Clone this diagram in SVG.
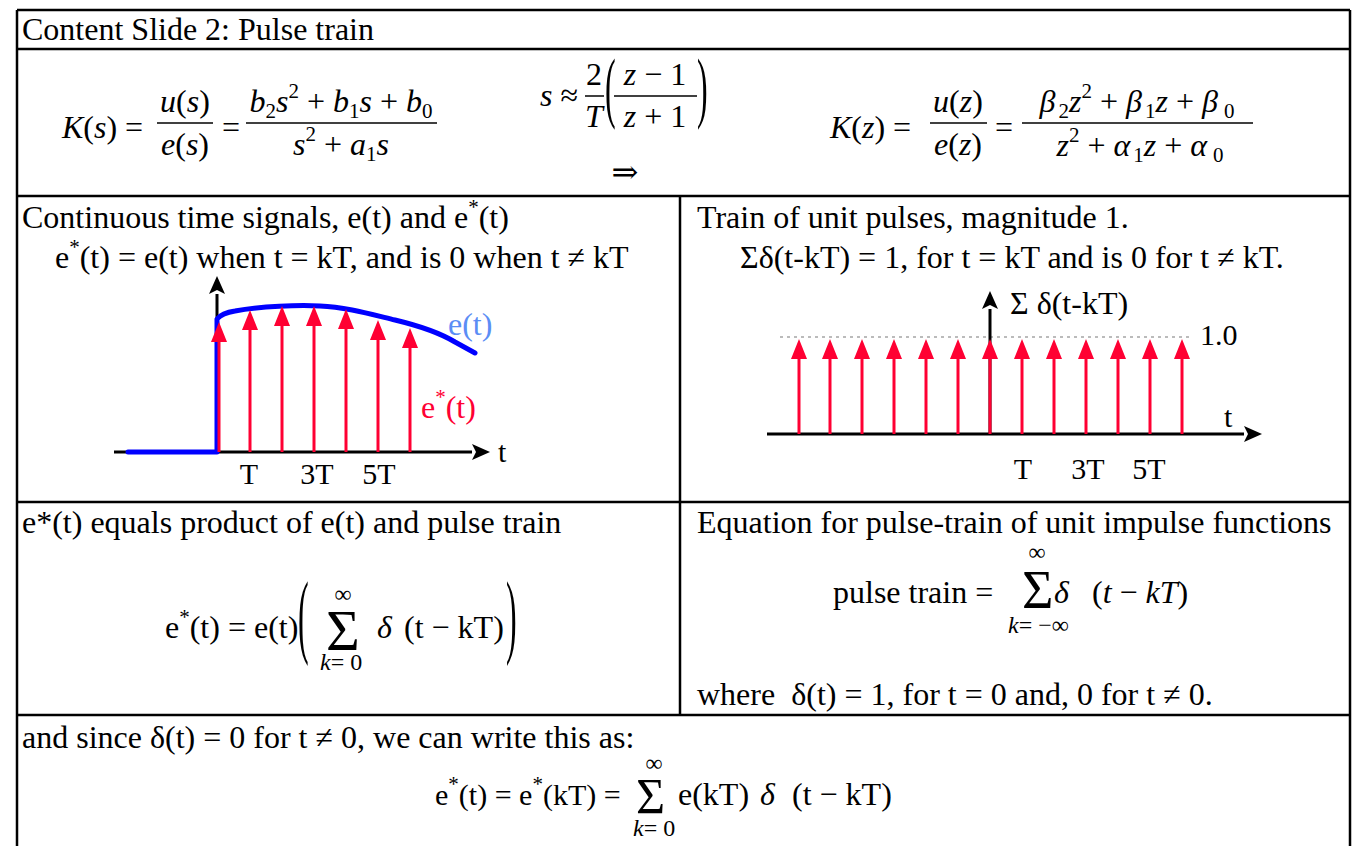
<svg xmlns="http://www.w3.org/2000/svg" width="1354" height="846" viewBox="0 0 1354 846">
<style>
.t{font-family:"Liberation Serif","DejaVu Serif",serif;font-size:32px;fill:#000}
.p{font-family:"Liberation Serif","DejaVu Serif",serif;font-size:30px;fill:#000}
.i{font-style:italic}
.sub{font-size:21px;font-style:normal}
.sup{font-size:21px;font-style:normal}
.sm{font-family:"Liberation Serif","DejaVu Serif",serif;font-size:24px;fill:#000}
.grid{stroke:#000;stroke-width:2.5;fill:none}
.bar{stroke:#000;stroke-width:1.5}
.ax{stroke:#000;stroke-width:3;fill:none}
.pulse{stroke:#ff0033;stroke-width:3;fill:none}
</style>
<defs>
<marker id="ra" markerUnits="userSpaceOnUse" markerWidth="20" markerHeight="16" refX="0" refY="8" orient="auto" viewBox="0 0 20 16">
<path d="M0,0 L20,8 L0,16 Z" fill="#ff0033"/>
</marker>
<marker id="ka" markerUnits="userSpaceOnUse" markerWidth="18" markerHeight="16" refX="0" refY="8" orient="auto" viewBox="0 0 18 16">
<path d="M0,0 L18,8 L0,16 L4,8 Z" fill="#000"/>
</marker>
</defs>
<rect width="1354" height="846" fill="#fff"/>

<g id="table">
<line class="grid" x1="17" y1="10" x2="1350" y2="10"/>
<line class="grid" x1="17" y1="10" x2="17" y2="846"/>
<line class="grid" x1="1350" y1="10" x2="1350" y2="846"/>
<line class="grid" x1="17" y1="49" x2="1350" y2="49"/>
<line class="grid" x1="17" y1="196" x2="1350" y2="196"/>
<line class="grid" x1="17" y1="502" x2="1350" y2="502"/>
<line class="grid" x1="17" y1="715" x2="1350" y2="715"/>
<line class="grid" x1="680" y1="196" x2="680" y2="715"/>
</g>

<g id="title">
<text class="t" x="22" y="40">Content Slide 2: Pulse train</text>
</g>

<g id="eq-ks">
<text class="t" x="62" y="138"><tspan class="i">K</tspan>(<tspan class="i">s</tspan>) =</text>
<line class="bar" x1="157" y1="123" x2="213" y2="123"/>
<text class="t" x="185" y="112" text-anchor="middle"><tspan class="i">u</tspan>(<tspan class="i">s</tspan>)</text>
<text class="t" x="185" y="155" text-anchor="middle"><tspan class="i">e</tspan>(<tspan class="i">s</tspan>)</text>
<text class="t" x="222" y="138">=</text>
<line class="bar" x1="246" y1="123" x2="437" y2="123"/>
<text class="t" x="341" y="112" text-anchor="middle"><tspan class="i">b</tspan><tspan class="sub" dy="6">2</tspan><tspan class="i" dy="-6">s</tspan><tspan class="sup" dy="-14">2</tspan><tspan dy="14"> + </tspan><tspan class="i">b</tspan><tspan class="sub" dy="6">1</tspan><tspan class="i" dy="-6">s</tspan><tspan> + </tspan><tspan class="i">b</tspan><tspan class="sub" dy="6">0</tspan></text>
<text class="t" x="341" y="155" text-anchor="middle"><tspan class="i">s</tspan><tspan class="sup" dy="-14">2</tspan><tspan dy="14"> + </tspan><tspan class="i">a</tspan><tspan class="sub" dy="6">1</tspan><tspan class="i" dy="-6">s</tspan></text>
</g>

<g id="eq-bilinear">
<text class="t" x="540" y="106"><tspan class="i">s</tspan> ≈</text>
<line class="bar" x1="585" y1="96" x2="604" y2="96"/>
<text class="t" x="594" y="85" text-anchor="middle">2</text>
<text class="t i" x="594" y="127" text-anchor="middle">T</text>
<text class="t" transform="translate(605,113) scale(1,2.45)">(</text>
<line class="bar" x1="614" y1="96" x2="697" y2="96"/>
<text class="t" x="655" y="85" text-anchor="middle"><tspan class="i">z</tspan> − 1</text>
<text class="t" x="655" y="127" text-anchor="middle"><tspan class="i">z</tspan> + 1</text>
<text class="t" transform="translate(697,113) scale(1,2.45)">)</text>
<text class="t" x="625" y="183" text-anchor="middle">⇒</text>
</g>

<g id="eq-kz">
<text class="t" x="830" y="138"><tspan class="i">K</tspan>(<tspan class="i">z</tspan>) =</text>
<line class="bar" x1="930" y1="123" x2="987" y2="123"/>
<text class="t" x="958" y="112" text-anchor="middle"><tspan class="i">u</tspan>(<tspan class="i">z</tspan>)</text>
<text class="t" x="958" y="155" text-anchor="middle"><tspan class="i">e</tspan>(<tspan class="i">z</tspan>)</text>
<text class="t" x="995" y="138">=</text>
<line class="bar" x1="1022" y1="123" x2="1253" y2="123"/>
<text class="t" x="1137" y="112" text-anchor="middle"><tspan class="i">β</tspan><tspan class="sub" dx="3" dy="6">2</tspan><tspan class="i" dy="-6">z</tspan><tspan class="sup" dy="-14">2</tspan><tspan dy="14"> + </tspan><tspan class="i">β</tspan><tspan class="sub" dx="3" dy="6">1</tspan><tspan class="i" dy="-6">z</tspan><tspan> + </tspan><tspan class="i">β</tspan><tspan class="sub" dx="6" dy="6">0</tspan></text>
<text class="t" x="1140" y="156" text-anchor="middle"><tspan class="i">z</tspan><tspan class="sup" dy="-14">2</tspan><tspan dy="14"> + </tspan><tspan class="i">α</tspan><tspan class="sub" dx="3" dy="6">1</tspan><tspan class="i" dy="-6">z</tspan><tspan> + </tspan><tspan class="i">α</tspan><tspan class="sub" dx="6" dy="6">0</tspan></text>
</g>

<g id="cell-continuous">
<text class="t" x="22" y="228">Continuous time signals, e(t) and e<tspan class="sup" dy="-14">*</tspan><tspan dy="14">(t)</tspan></text>
<text class="t" x="55" y="268">e<tspan class="sup" dy="-14">*</tspan><tspan dy="14">(t) = e(t) when t = kT, and is 0 when t ≠ kT</tspan></text>
</g>

<g id="plot-left">
<line class="ax" x1="114" y1="452" x2="472" y2="452" marker-end="url(#ka)"/>
<line class="ax" x1="217" y1="452" x2="217" y2="294" marker-end="url(#ka)"/>
<path d="M128,452 H217 V319 Q222,313 235,311 C260,306 300,305 320,306 C345,307 370,314 395,320 C420,326 440,333 455,342 L475,353" fill="none" stroke="#0000ff" stroke-width="5" stroke-linecap="round" stroke-linejoin="round"/>
<g id="samples">
<line class="pulse" x1="219" y1="452" x2="219" y2="342" marker-end="url(#ra)"/>
<line class="pulse" x1="250" y1="452" x2="250" y2="330" marker-end="url(#ra)"/>
<line class="pulse" x1="282" y1="452" x2="282" y2="326" marker-end="url(#ra)"/>
<line class="pulse" x1="314" y1="452" x2="314" y2="326" marker-end="url(#ra)"/>
<line class="pulse" x1="346" y1="452" x2="346" y2="329" marker-end="url(#ra)"/>
<line class="pulse" x1="378" y1="452" x2="378" y2="340" marker-end="url(#ra)"/>
<line class="pulse" x1="410" y1="452" x2="410" y2="348" marker-end="url(#ra)"/>
</g>
<text class="t" x="448" y="335" style="fill:#5b8df5">e(t)</text>
<text class="t" x="421" y="418" style="fill:#ff0033">e<tspan class="sup" dy="-14">*</tspan><tspan dy="14">(t)</tspan></text>
<text class="p" x="498" y="462">t</text>
<text class="p" x="249" y="484" text-anchor="middle">T</text>
<text class="p" x="317" y="484" text-anchor="middle">3T</text>
<text class="p" x="379" y="484" text-anchor="middle">5T</text>
</g>

<g id="cell-train">
<text class="t" x="697" y="228">Train of unit pulses, magnitude 1.</text>
<text class="t" x="740" y="268">Σδ(t-kT) = 1, for t = kT and is 0 for t ≠ kT.</text>
</g>

<g id="plot-right">
<line x1="780" y1="337" x2="1190" y2="337" stroke="#bbbbbb" stroke-width="2" stroke-dasharray="3,4"/>
<line class="ax" x1="767" y1="434" x2="1244" y2="434" marker-end="url(#ka)"/>
<line class="ax" x1="990" y1="434" x2="990" y2="309" marker-end="url(#ka)"/>
<g id="train">
<line class="pulse" x1="799" y1="434" x2="799" y2="359" marker-end="url(#ra)"/>
<line class="pulse" x1="830" y1="434" x2="830" y2="359" marker-end="url(#ra)"/>
<line class="pulse" x1="862" y1="434" x2="862" y2="359" marker-end="url(#ra)"/>
<line class="pulse" x1="894" y1="434" x2="894" y2="359" marker-end="url(#ra)"/>
<line class="pulse" x1="926" y1="434" x2="926" y2="359" marker-end="url(#ra)"/>
<line class="pulse" x1="958" y1="434" x2="958" y2="359" marker-end="url(#ra)"/>
<line class="pulse" x1="990" y1="434" x2="990" y2="359" marker-end="url(#ra)"/>
<line class="pulse" x1="1022" y1="434" x2="1022" y2="359" marker-end="url(#ra)"/>
<line class="pulse" x1="1054" y1="434" x2="1054" y2="359" marker-end="url(#ra)"/>
<line class="pulse" x1="1086" y1="434" x2="1086" y2="359" marker-end="url(#ra)"/>
<line class="pulse" x1="1118" y1="434" x2="1118" y2="359" marker-end="url(#ra)"/>
<line class="pulse" x1="1150" y1="434" x2="1150" y2="359" marker-end="url(#ra)"/>
<line class="pulse" x1="1182" y1="434" x2="1182" y2="359" marker-end="url(#ra)"/>
</g>
<text class="t" x="1010" y="314">Σ δ(t-kT)</text>
<text class="p" x="1200" y="345">1.0</text>
<text class="p" x="1224" y="427">t</text>
<text class="p" x="1023" y="479" text-anchor="middle">T</text>
<text class="p" x="1088" y="479" text-anchor="middle">3T</text>
<text class="p" x="1149" y="479" text-anchor="middle">5T</text>
</g>

<g id="cell-product">
<text class="t" x="22" y="533">e*(t) equals product of e(t) and pulse train</text>
<text class="t" x="165" y="638">e<tspan class="sup" dy="-14">*</tspan><tspan dy="14">(t) = e(t)</tspan></text>
<text class="t" transform="translate(298,646) scale(1,2.9)">(</text>
<text class="t" x="326" y="650" style="font-size:58px">Σ</text>
<text class="sm" x="343" y="602" text-anchor="middle">∞</text>
<text class="sm" x="320" y="670"><tspan class="i">k</tspan>= 0</text>
<text class="t i" x="377" y="638">δ</text>
<text class="t" x="404" y="638">(t − kT)</text>
<text class="t" transform="translate(506,646) scale(1,2.9)">)</text>
</g>

<g id="cell-equation">
<text class="t" x="697" y="533">Equation for pulse-train of unit impulse functions</text>
<text class="t" x="833" y="603">pulse train =</text>
<text class="t" x="1022" y="608" style="font-size:54px">Σ</text>
<text class="sm" x="1037" y="560" text-anchor="middle">∞</text>
<text class="sm" x="1008" y="633"><tspan class="i">k</tspan>= −∞</text>
<text class="t i" x="1054" y="603">δ</text>
<text class="t" x="1092" y="603">(<tspan class="i">t</tspan> − <tspan class="i">kT</tspan>)</text>
<text class="t" x="697" y="705">where&#160; δ(t) = 1, for t = 0 and, 0 for t ≠ 0.</text>
</g>

<g id="cell-since">
<text class="t" x="22" y="748">and since δ(t) = 0 for t ≠ 0, we can write this as:</text>
<text class="p" x="435" y="805">e<tspan class="sup" dy="-14">*</tspan><tspan dy="14">(t) = e</tspan><tspan class="sup" dy="-14">*</tspan><tspan dy="14">(kT) =</tspan></text>
<text class="t" x="636" y="813" style="font-size:50px">Σ</text>
<text class="sm" x="654" y="771" text-anchor="middle">∞</text>
<text class="sm" x="633" y="836"><tspan class="i">k</tspan>= 0</text>
<text class="t" x="678" y="805">e(kT)</text>
<text class="t i" x="760" y="805">δ</text>
<text class="t" x="792" y="805">(t − kT)</text>
</g>
</svg>
